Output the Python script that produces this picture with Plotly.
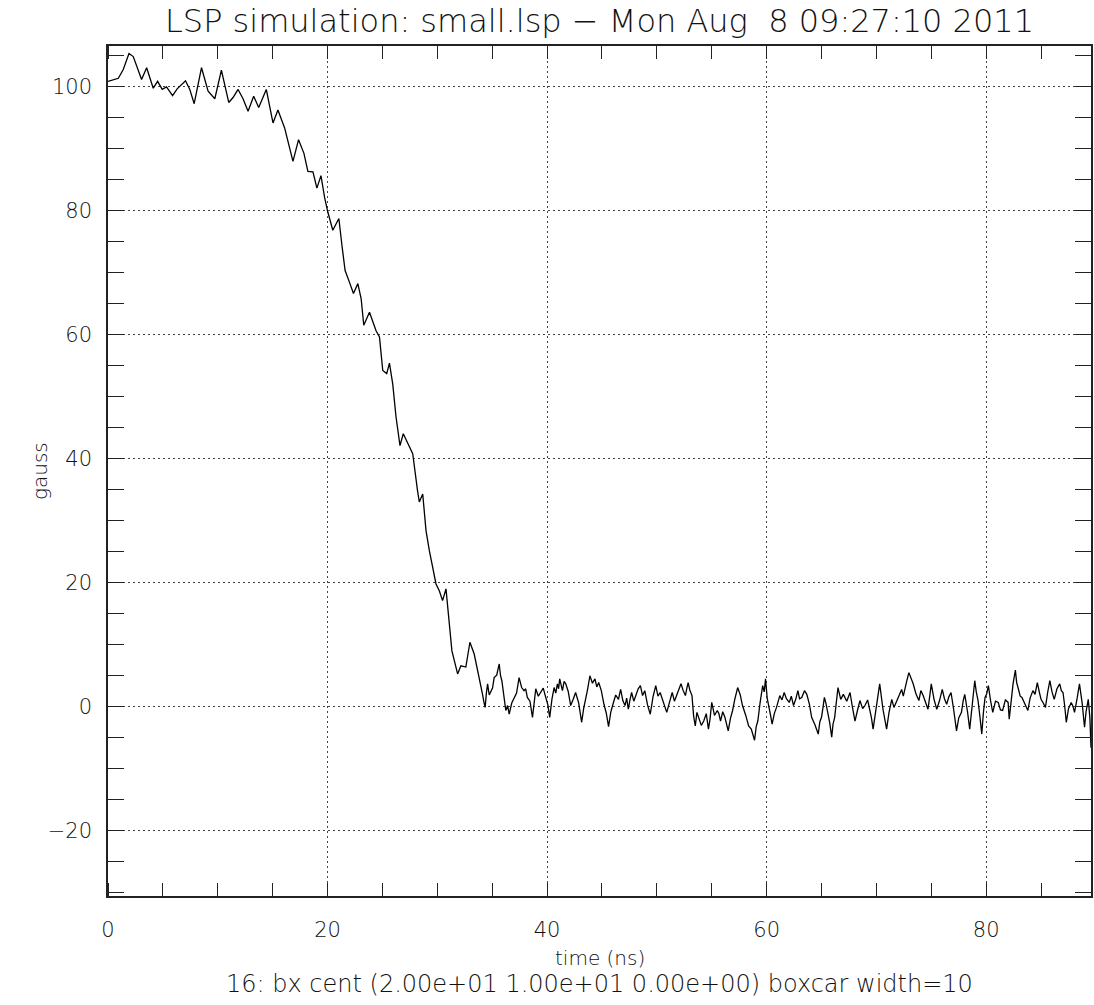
import plotly.graph_objects as go

# time (ns) and field (gauss): rise/fall part
time_fall = [
    0.0, 0.94, 1.39, 1.91, 2.3, 3.06, 3.52, 4.12, 4.52, 4.94, 5.33, 5.88, 6.3, 7.06, 7.45, 7.85,
    8.52, 9.12, 9.73, 10.33, 11.0, 11.39, 11.85, 12.3, 12.76, 13.27, 13.73, 14.42, 15.03, 15.48,
    16.09, 16.85, 17.36, 17.85, 18.21, 18.67, 19.03, 19.4, 19.73, 20.03, 20.48, 21.03, 21.33, 21.6,
    22.0, 22.36, 22.76, 23.06, 23.3, 23.82, 24.42, 24.73, 25.03, 25.39, 25.64, 25.94, 26.24, 26.6,
    26.9, 27.3, 27.76, 28.2, 28.36, 28.67, 28.97, 29.27, 29.58, 29.88, 30.18, 30.48, 30.79, 31.09,
    31.33, 31.85, 32.15, 32.6, 32.97, 33.36, 33.76,
]
gauss_fall = [
    100.8, 101.3, 102.7, 105.3, 104.8, 101.1, 103.0, 99.7, 100.8, 99.5, 99.9, 98.5, 99.6, 100.9, 99.5, 97.2,
    103.0, 99.2, 98.0, 102.6, 97.4, 98.2, 99.5, 98.0, 96.0, 98.4, 96.6, 99.5, 94.1, 96.2,
    93.3, 87.9, 91.4, 89.2, 86.3, 86.2, 83.6, 85.6, 82.1, 79.7, 76.8, 78.7, 74.1, 70.3,
    68.4, 66.6, 68.2, 65.8, 61.5, 63.6, 60.6, 59.6, 54.2, 53.7, 55.4, 52.0, 46.7, 42.1,
    44.0, 42.4, 40.8, 34.8, 33.0, 34.3, 28.4, 25.2, 22.5, 19.8, 18.7, 17.1, 19.0, 13.9,
    9.0, 5.3, 6.6, 6.4, 10.4, 8.5, 5.3,
]

# noisy plateau after the fall
time_flat = [
    34.12, 34.24, 34.36, 34.47, 34.58, 34.73, 34.88, 35.03, 35.18, 35.41,
    35.64, 35.76, 35.88, 36.06, 36.24, 36.4, 36.55, 36.78, 37.0, 37.22,
    37.45, 37.68, 37.9, 38.05, 38.2, 38.44, 38.67, 38.82, 38.97, 39.2,
    39.42, 39.65, 39.88, 40.06, 40.24, 40.44, 40.64, 40.79, 40.94, 41.05,
    41.15, 41.28, 41.4, 41.55, 41.7, 41.92, 42.15, 42.38, 42.6, 42.88,
    43.15, 43.33, 43.5, 43.7, 43.9, 44.13, 44.36, 44.53, 44.7, 44.94,
    45.18, 45.39, 45.6, 45.8, 46.0, 46.25, 46.5, 46.6, 46.7, 46.9,
    47.1, 47.25, 47.4, 47.55, 47.7, 47.9, 48.1, 48.3, 48.5, 48.7,
    48.9, 49.15, 49.4, 49.65, 49.9, 50.1, 50.3, 50.6, 50.9, 51.15,
    51.4, 51.6, 51.8, 52.0, 52.2, 52.4, 52.6, 52.72, 52.85, 53.0,
    53.2, 53.35, 53.5, 53.65, 53.8, 54.05, 54.27, 54.5, 54.7, 54.85,
    55.0, 55.25, 55.5, 55.65, 55.8, 56.0, 56.2, 56.35, 56.5, 56.7,
    56.9, 57.1, 57.36, 57.6, 57.8, 58.1, 58.36, 58.6, 58.9, 59.05,
    59.2, 59.4, 59.64, 59.78, 59.9, 60.05, 60.18, 60.35, 60.5, 60.7,
    60.9, 61.05, 61.2, 61.4, 61.6, 61.8, 62.06, 62.25, 62.45, 62.65,
    62.85, 63.0, 63.2, 63.45, 63.66, 63.9, 64.1, 64.4, 64.7, 64.85,
    65.0, 65.12, 65.26, 65.4, 65.57, 65.75, 65.93, 66.05, 66.2, 66.35,
    66.5, 66.75, 66.99, 67.3, 67.6, 67.8, 68.05, 68.3, 68.5, 68.75,
    68.96, 69.2, 69.4, 69.55, 69.7, 70.0, 70.3, 70.6, 70.93, 71.15,
    71.4, 71.6, 71.8, 72.05, 72.3, 72.45, 72.6, 72.8, 72.96, 73.15,
    73.35, 73.6, 73.87, 74.05, 74.26, 74.5, 74.7, 74.85, 75.0, 75.25,
    75.5, 75.75, 76.0, 76.2, 76.4, 76.6, 76.8, 77.05, 77.3, 77.5,
    77.75, 77.9, 78.05, 78.3, 78.5, 78.75, 78.96, 79.1, 79.26, 79.45,
    79.6, 79.75, 79.9, 80.05, 80.2, 80.4, 80.6, 80.85, 81.1, 81.3,
    81.5, 81.75, 82.0, 82.1, 82.3, 82.45, 82.66, 82.78, 82.9, 83.1,
    83.26, 83.55, 83.8, 84.0, 84.26, 84.45, 84.66, 84.85, 85.0, 85.2,
    85.4, 85.6, 85.8, 86.0, 86.2, 86.45, 86.7, 86.85, 87.0, 87.15,
    87.3, 87.5, 87.75, 87.9, 88.05, 88.3, 88.5, 88.75, 88.96, 89.1,
    89.3, 89.45, 89.55,
]
gauss_flat = [
    2.0, 0.8, -0.1, 2.2, 3.7, 1.9, 2.4, 3.0, 4.7, 5.1,
    6.9, 5.0, 4.2, 1.3, -0.6, 0.2, -1.2, 0.6, 1.5, 2.2,
    4.7, 3.1, 2.6, 2.9, 1.5, 0.9, -1.7, 0.9, 2.9, 1.7,
    2.4, 3.0, 1.5, 0.4, -1.7, 1.2, 3.1, 2.2, 3.7, 2.9,
    4.5, 3.4, 2.6, 4.1, 3.7, 2.5, 0.2, 1.2, 2.3, 0.6,
    -2.5, -0.3, 1.5, 2.9, 5.0, 3.8, 4.5, 3.2, 3.9, 2.6,
    0.4, -1.0, -3.2, -0.9, 0.4, 1.9, 1.2, 2.2, 2.8, 1.0,
    0.2, 1.4, -0.4, 1.1, 2.3, 0.9, 1.8, 2.9, 3.4, 1.8,
    2.6, 0.3, -1.2, 1.6, 3.4, 1.7, 2.3, 0.8, -0.9, 0.7,
    2.3, 0.9, 1.8, 3.0, 3.7, 2.6, 1.8, 2.9, 3.9, 2.7,
    1.8, -1.5, -3.1, -0.9, -1.7, -3.0, -2.3, -1.1, -3.6, -1.9,
    0.7, -1.4, -0.6, -1.1, -2.3, -0.8, -1.7, -2.6, -3.9, -1.9,
    -0.6, 1.2, 3.1, 1.9, 0.2, -1.4, -3.1, -3.6, -5.4, -3.2,
    -2.3, 0.6, 3.4, 2.4, 4.5, 1.4, -0.1, -1.3, -2.8, -1.1,
    -0.1, 0.9, 1.8, 1.1, 2.3, 1.3, 0.7, 1.7, 0.2, 1.2,
    2.6, 1.3, 1.5, 2.6, 2.0, 0.4, -1.7, -2.9, -4.4, -2.4,
    -1.7, -0.3, 1.5, 0.6, -0.9, -2.6, -4.9, -2.8, -1.7, 0.5,
    3.1, 1.2, 2.0, 0.9, 2.3, 0.1, -2.3, -0.4, 1.0, -0.3,
    0.2, 1.1, -0.4, -1.8, -3.6, 0.3, 3.7, -0.4, -3.6, -0.9,
    1.2, -0.1, 0.7, 1.9, 2.8, 1.7, 3.1, 4.4, 5.5, 4.6,
    3.7, 2.1, 1.0, 2.6, 1.8, 0.6, -0.4, 1.6, 3.7, 1.2,
    -0.4, 1.0, 2.8, 1.3, 0.4, 1.6, 2.3, -0.6, -3.9, -1.8,
    -0.9, 0.9, 2.0, -0.8, -3.6, 0.6, 4.2, 2.4, 1.0, -1.9,
    -4.4, -0.9, 1.5, 2.1, 3.4, 1.0, -0.9, 0.9, 0.7, -0.5,
    -0.6, 1.1, 0.7, -2.0, 1.6, 3.7, 5.9, 3.9, 3.1, 1.7,
    1.5, 0.3, -0.6, 1.4, 2.6, 2.0, 3.9, 2.3, 1.2, 0.6,
    -0.1, 2.3, 4.2, 2.4, 1.2, 2.9, 3.7, 2.6, 2.3, 0.2,
    -2.5, -0.3, 0.7, 0.1, -0.9, 1.5, 3.7, 0.5, -3.3, -0.8,
    1.2, -1.8, -6.6,
]

time_ns = time_fall + time_flat
field_gauss = gauss_fall + gauss_flat

x_tickvals = [0, 20, 40, 60, 80]
y_tickvals = [-20, 0, 20, 40, 60, 80, 100]

title_text = "LSP simulation: small.lsp \u2212 Mon Aug \u00a08 09:27:10 2011"
xlabel = "time (ns)"
ylabel = "gauss"
caption = "16: bx cent (2.00e+01 1.00e+01 0.00e+00) boxcar width=10"

FONT = "DejaVu Sans"
INK = "#222222"
TXT = "#111111"

fig = go.Figure()
fig.add_trace(go.Scatter(x=time_ns, y=field_gauss, mode="lines",
                         line=dict(color="black", width=1.3), showlegend=False,
                         hoverinfo="skip"))

axis_common = dict(
    showline=True, linecolor=INK, linewidth=1.5, mirror="allticks",
    showgrid=True, gridcolor="#444444", gridwidth=1, griddash="2px,3px",
    zeroline=False, ticks="", tickfont=dict(family=FONT, size=21, color=TXT, weight=200),
)

fig.update_xaxes(
    **axis_common, range=[0, 89.55], tickmode="array", tickvals=x_tickvals,
    minor=dict(dtick=5, tick0=0, ticks="inside", ticklen=13, tickcolor=INK, tickwidth=1.2, showgrid=False),
    ticklabelstandoff=14,
)
fig.update_yaxes(
    **axis_common, range=[-30.5, 106.5], tickmode="array", tickvals=y_tickvals,
    minor=dict(dtick=5, tick0=0, ticks="inside", ticklen=16, tickcolor=INK, tickwidth=1.2, showgrid=False),
    ticklabelstandoff=10,
)

fig.update_layout(
    width=1094, height=1005,
    margin=dict(l=108, r=1, t=46, b=109),
    plot_bgcolor="white", paper_bgcolor="white",
    title=dict(text=title_text, x=0.548, xanchor="center", y=1 - 21 / 1005, yanchor="middle",
               yref="container", font=dict(family=FONT, size=32, color=TXT, weight=200)),
    annotations=[
        dict(text=xlabel, xref="paper", yref="paper", x=0.5, y=0, yanchor="middle",
             yshift=-62, showarrow=False, font=dict(family=FONT, size=20, color=TXT, weight=200)),
        dict(text=caption, xref="paper", yref="paper", x=0.5, y=0, yanchor="middle",
             yshift=-88, showarrow=False, font=dict(family=FONT, size=24, color=TXT, weight=200)),
        dict(text=ylabel, xref="paper", yref="paper", x=0, y=0.5, xanchor="center",
             xshift=-68, textangle=-90, showarrow=False,
             font=dict(family=FONT, size=20, color=TXT, weight=200)),
    ],
)

fig.write_html("out.html")
